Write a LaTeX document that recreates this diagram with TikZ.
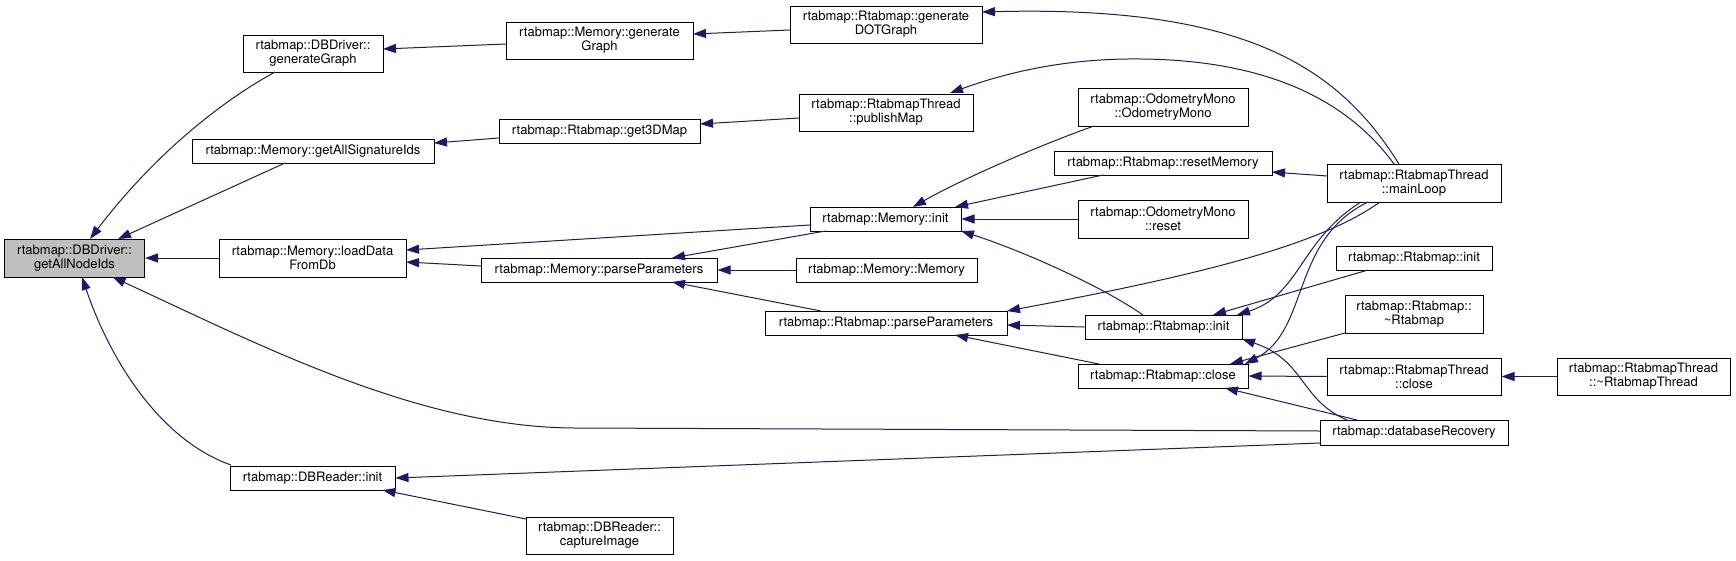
\documentclass[tikz,border=0pt]{standalone}
\usepackage{fontspec}
\setmainfont{TeX Gyre Heros}
\usetikzlibrary{arrows.meta,calc}
\definecolor{edgeblue}{HTML}{191970}
\definecolor{rootgray}{HTML}{BFBFBF}
\begin{document}
\begin{tikzpicture}[x=1pt,y=-1pt,
  fn/.style={draw=black, line width=1pt, fill=white, inner sep=0pt, align=center, font=\fontsize{13}{14}\selectfont},
  rootfn/.style={fn, fill=rootgray},
  call/.style={draw=edgeblue, line width=1pt, -{Triangle[length=13pt,width=9pt]}},
]
\useasboundingbox (0,0) rectangle (1736,560);
\node[rootfn, minimum width=140pt, minimum height=38pt] (A) at (74.5,258) {rtabmap::DBDriver::\\getAllNodeIds};
\node[fn, minimum width=140pt, minimum height=37pt] (B) at (313,53.5) {rtabmap::DBDriver::\\generateGraph};
\node[fn, minimum width=242pt, minimum height=24pt] (C) at (313,151) {rtabmap::Memory::getAllSignatureIds};
\node[fn, minimum width=187pt, minimum height=38pt] (D) at (312.5,258) {rtabmap::Memory::loadData\\FromDb};
\node[fn, minimum width=165pt, minimum height=24pt] (E) at (312.5,478) {rtabmap::DBReader::init};
\node[fn, minimum width=187pt, minimum height=37pt] (F) at (599.5,40.5) {rtabmap::Memory::generate\\Graph};
\node[fn, minimum width=201pt, minimum height=24pt] (G) at (599.5,131) {rtabmap::Rtabmap::get3DMap};
\node[fn, minimum width=236pt, minimum height=24pt] (H) at (599,270) {rtabmap::Memory::parseParameters};
\node[fn, minimum width=147pt, minimum height=37pt] (I) at (599.5,535.5) {rtabmap::DBReader::\\captureImage};
\node[fn, minimum width=192pt, minimum height=37pt] (J) at (886,24.5) {rtabmap::Rtabmap::generate\\DOTGraph};
\node[fn, minimum width=174pt, minimum height=37pt] (K) at (886,112.5) {rtabmap::RtabmapThread\\::publishMap};
\node[fn, minimum width=151pt, minimum height=24pt] (L) at (885.5,219) {rtabmap::Memory::init};
\node[fn, minimum width=181pt, minimum height=24pt] (M) at (886.5,270) {rtabmap::Memory::Memory};
\node[fn, minimum width=242pt, minimum height=24pt] (N) at (886,323) {rtabmap::Rtabmap::parseParameters};
\node[fn, minimum width=170pt, minimum height=38pt] (O) at (1163,107) {rtabmap::OdometryMono\\::OdometryMono};
\node[fn, minimum width=218pt, minimum height=24pt] (P) at (1163,163) {rtabmap::Rtabmap::resetMemory};
\node[fn, minimum width=170pt, minimum height=38pt] (Q) at (1163,219) {rtabmap::OdometryMono\\::reset};
\node[fn, minimum width=157pt, minimum height=24pt] (R) at (1163.5,327) {rtabmap::Rtabmap::init};
\node[fn, minimum width=170pt, minimum height=24pt] (S) at (1163,376) {rtabmap::Rtabmap::close};
\node[fn, minimum width=174pt, minimum height=38pt] (T) at (1414,183) {rtabmap::RtabmapThread\\::mainLoop};
\node[fn, minimum width=156pt, minimum height=24pt] (U) at (1414,258) {rtabmap::Rtabmap::init};
\node[fn, minimum width=138pt, minimum height=38pt] (V) at (1414,314) {rtabmap::Rtabmap::\\\textasciitilde Rtabmap};
\node[fn, minimum width=174pt, minimum height=37pt] (W) at (1414,376.5) {rtabmap::RtabmapThread\\::close};
\node[fn, minimum width=188pt, minimum height=25pt] (X) at (1414,432.5) {rtabmap::databaseRecovery};
\node[fn, minimum width=173pt, minimum height=37pt] (Y) at (1643.5,376.5) {rtabmap::RtabmapThread\\::\textasciitilde RtabmapThread};

\draw[call] ($(B)+(-38,18.5)$) .. controls (215,105) and (150,160) .. ($(A)+(15.5,-19)$);
\draw[call] ($(C)+(-28,12)$) -- ($(A)+(43.5,-19)$);
\draw[call] (D.west) -- (A.east);
\draw[call] ($(X)+(-94,-1.5)$) -- (576,428) .. controls (420,428) and (260,345) .. ($(A)+(38,19)$);
\draw[call] ($(E)+(-81.5,-13)$) .. controls (160,440) and (110,360) .. ($(A)+(7.5,19)$);
\draw[call] ($(F)+(-93.5,3.5)$) -- ($(B)+(70,-4.5)$);
\draw[call] ($(J)+(-96,5.5)$) -- ($(F)+(93.5,-6.5)$);
\draw[call] ($(T)+(-15,-19)$) .. controls (1340,70) and (1250,5) .. ($(J)+(96,-12.5)$);
\draw[call] ($(K)+(-87,5.5)$) -- ($(G)+(100.5,-7)$);
\draw[call] ($(G)+(-100.5,7)$) -- ($(C)+(121,-8)$);
\draw[call] ($(T)+(-20,-19)$) .. controls (1340,90) and (1250,60) .. (1141,59) .. controls (1060,58) and (1000,75) .. ($(K)+(64,-19.5)$);
\draw[call] ($(O)+(-69,19)$) .. controls (1040,145) and (960,180) .. ($(L)+(27.5,-12)$);
\draw[call] ($(P)+(-60,12)$) -- ($(L)+(69.5,-12)$);
\draw[call] (Q.west) -- (L.east);
\draw[call] ($(R)+(-20.5,-12)$) .. controls (1100,285) and (1020,250) .. ($(L)+(75.5,12)$);
\draw[call] ($(T)+(-87,-7)$) -- ($(P)+(109,9)$);
\draw[call] ($(L)+(-75.5,6)$) -- ($(D)+(93.5,-8)$);
\draw[call] ($(H)+(-118,-4)$) -- ($(D)+(93.5,4)$);
\draw[call] ($(L)+(-60,12)$) -- ($(H)+(73,-12)$);
\draw[call] (M.west) -- (H.east);
\draw[call] ($(N)+(-65,-12)$) -- ($(H)+(73,12)$);
\draw[call] ($(T)+(-34,19)$) .. controls (1320,245) and (1200,275) .. ($(N)+(121,-12)$);
\draw[call] (R.west) -- ($(N)+(121,2)$);
\draw[call] ($(S)+(-64,-12)$) -- ($(N)+(69,12)$);
\draw[call] ($(T)+(-53,19)$) .. controls (1300,240) and (1300,295) .. ($(R)+(73.5,-12)$);
\draw[call] ($(U)+(-46,12)$) -- ($(R)+(49.5,-12)$);
\draw[call] ($(X)+(-67,-12.5)$) .. controls (1300,400) and (1305,360) .. ($(R)+(78.5,12)$);
\draw[call] ($(T)+(-46,19)$) .. controls (1290,240) and (1310,330) .. ($(S)+(82,-12)$);
\draw[call] (W.west) -- (S.east);
\draw[call] ($(V)+(-69,19)$) -- ($(S)+(67,-12)$);
\draw[call] ($(X)+(-57,-12.5)$) -- ($(S)+(62,12)$);
\draw[call] (Y.west) -- (W.east);
\draw[call] ($(X)+(-94,10.5)$) -- (E.east);
\draw[call] ($(I)+(-73.5,-16.5)$) -- ($(E)+(70,12)$);
\end{tikzpicture}
\end{document}
